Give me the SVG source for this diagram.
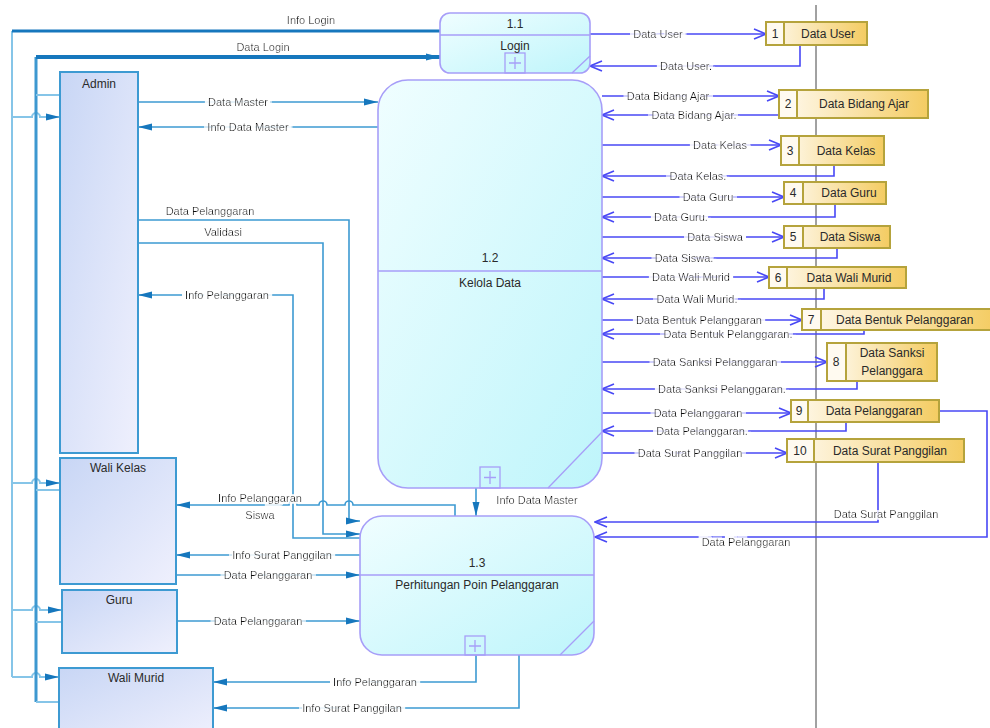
<svg xmlns="http://www.w3.org/2000/svg" width="990" height="728" viewBox="0 0 990 728">
<defs>
<linearGradient id="gEnt" x1="0" y1="0" x2="1" y2="1"><stop offset="0" stop-color="#c8d6f5"/><stop offset="1" stop-color="#eff0fd"/></linearGradient>
<linearGradient id="gProc" x1="0" y1="0" x2="1" y2="1"><stop offset="0" stop-color="#f0feff"/><stop offset="1" stop-color="#bef5fb"/></linearGradient>
<linearGradient id="gStore" x1="0" y1="0" x2="1" y2="0"><stop offset="0" stop-color="#fffaf0"/><stop offset="1" stop-color="#f4cc62"/></linearGradient>
<filter id="bg" x="-10%" y="-30%" width="120%" height="160%"><feMorphology in="SourceAlpha" operator="dilate" radius="3.5 2" result="d"/><feFlood flood-color="#fff"/><feComposite in2="d" operator="in"/><feMerge><feMergeNode/><feMergeNode in="SourceGraphic"/></feMerge></filter>
<marker id="fa" viewBox="0 0 14 10" refX="14" refY="5" markerWidth="14" markerHeight="10" markerUnits="userSpaceOnUse" orient="auto"><path d="M0,1.5 L14,5 L0,8.5 z" fill="#1677bd"/></marker>
<marker id="oa" viewBox="0 0 14 12" refX="13" refY="6" markerWidth="14" markerHeight="12" markerUnits="userSpaceOnUse" orient="auto"><path d="M1,1 L13,6 L1,11" fill="none" stroke="#4848f5" stroke-width="1.6"/></marker>
</defs>
<style>
text{font-family:"Liberation Sans",Arial,sans-serif;font-size:11px;fill:#2a2a2a}
.lb{text-anchor:middle;filter:url(#bg);fill:#111}
.ent{fill:url(#gEnt);stroke:#3d9ad2;stroke-width:2}
.proc{fill:url(#gProc);stroke:#a79ef8;stroke-width:1.6}
.pl{fill:none;stroke:#a79ef8;stroke-width:1.3}
.st{fill:url(#gStore);stroke:#b5a33c;stroke-width:2}
.stn{fill:#fffaf0;stroke:#b5a33c;stroke-width:2}
.nm{font-size:12px;text-anchor:middle}
.e{fill:none;stroke:#3d9ad2;stroke-width:1.6}
.el{fill:none;stroke:#86c5e8;stroke-width:2}
.s{fill:none;stroke:#4848f5;stroke-width:1.6}
</style>
<rect width="990" height="728" fill="#fff"/>
<line x1="816" y1="5" x2="816" y2="728" stroke="#444" stroke-width="1"/>

<g id="connectors">
<path d="M12,31 V677" class="el"/>
<path d="M440,31 H12" fill="none" stroke="#1677bd" stroke-width="3"/>
<path d="M12,117 H32 a4,4 0 0 1 8,0 H60" class="el" marker-end="url(#fa)"/>
<path d="M12,483 H32 a4,4 0 0 1 8,0 H60" class="el" marker-end="url(#fa)"/>
<path d="M12,610 H32 a4,4 0 0 1 8,0 H62" class="el" marker-end="url(#fa)"/>
<path d="M12,677 H32 a4,4 0 0 1 8,0 H59" class="el" marker-end="url(#fa)"/>
<path d="M36,57 V702" fill="none" stroke="#3d98d0" stroke-width="3"/>
<path d="M36,57 H440" fill="none" stroke="#1677bd" stroke-width="4" marker-end="url(#fa)"/>
<path d="M36,95 H60 M36,490 H60 M36,622 H62 M36,702 H59" class="el"/>
<path d="M138,102 H378" class="e" marker-end="url(#fa)"/>
<path d="M378,127 H138" class="e" marker-end="url(#fa)"/>
<path d="M138,220 H349 V521 H360" class="e" marker-end="url(#fa)"/>
<path d="M138,243 H323 V534 H360" class="e" marker-end="url(#fa)"/>
<path d="M360,538 H293 V295 H138" class="e" marker-end="url(#fa)"/>
<path d="M455,516 V505 H353 a4,4 0 0 0 -8,0 H327 a4,4 0 0 0 -8,0 H297 a4,4 0 0 0 -8,0 H176" class="e" marker-end="url(#fa)"/>
<path d="M476,488 V516" class="e" marker-end="url(#fa)"/>
<path d="M360,555 H176" class="e" marker-end="url(#fa)"/>
<path d="M176,575 H360" class="e" marker-end="url(#fa)"/>
<path d="M177,621 H360" class="e" marker-end="url(#fa)"/>
<path d="M476,655 V682 H213" class="e" marker-end="url(#fa)"/>
<path d="M519,655 V708 H213" class="e" marker-end="url(#fa)"/>
<path d="M590,34 H766" class="s" marker-end="url(#oa)"/>
<path d="M800,45 V66 H590" class="s" marker-end="url(#oa)"/>
<path d="M602,96 H779" class="s" marker-end="url(#oa)"/>
<path d="M779,115 H602" class="s" marker-end="url(#oa)"/>
<path d="M602,145 H781" class="s" marker-end="url(#oa)"/>
<path d="M834,165 V176 H602" class="s" marker-end="url(#oa)"/>
<path d="M602,197 H784" class="s" marker-end="url(#oa)"/>
<path d="M835,204 V217 H602" class="s" marker-end="url(#oa)"/>
<path d="M602,237 H784" class="s" marker-end="url(#oa)"/>
<path d="M837,248 V258 H602" class="s" marker-end="url(#oa)"/>
<path d="M602,277 H769" class="s" marker-end="url(#oa)"/>
<path d="M824,288 V299 H602" class="s" marker-end="url(#oa)"/>
<path d="M602,320 H802" class="s" marker-end="url(#oa)"/>
<path d="M864,330 V334 H602" class="s" marker-end="url(#oa)"/>
<path d="M602,362 H827" class="s" marker-end="url(#oa)"/>
<path d="M857,381 V389 H602" class="s" marker-end="url(#oa)"/>
<path d="M602,413 H791" class="s" marker-end="url(#oa)"/>
<path d="M846,422 V431 H602" class="s" marker-end="url(#oa)"/>
<path d="M602,453 H787" class="s" marker-end="url(#oa)"/>
<path d="M878,462 V522 H595" class="s" marker-end="url(#oa)"/>
<path d="M939,411 H987 V537 H595" class="s" marker-end="url(#oa)"/>
<text class="lb" x="311" y="24">Info Login</text>
<text class="lb" x="263" y="51">Data Login</text>
<text class="lb" x="238" y="106">Data Master</text>
<text class="lb" x="248" y="131">Info Data Master</text>
<text class="lb" x="210" y="215">Data Pelanggaran</text>
<text class="lb" x="223" y="236">Validasi</text>
<text class="lb" x="227" y="299">Info Pelanggaran</text>
<text class="lb" x="260" y="502">Info Pelanggaran</text>
<text class="lb" x="260" y="519">Siswa</text>
<text class="lb" x="537" y="504">Info Data Master</text>
<text class="lb" x="282" y="559">Info Surat Panggilan</text>
<text class="lb" x="268" y="579">Data Pelanggaran</text>
<text class="lb" x="258" y="625">Data Pelanggaran</text>
<text class="lb" x="375" y="686">Info Pelanggaran</text>
<text class="lb" x="352" y="712">Info Surat Panggilan</text>
<text class="lb" x="658" y="38">Data User</text>
<text class="lb" x="686" y="70">Data User.</text>
<text class="lb" x="668" y="100">Data Bidang Ajar</text>
<text class="lb" x="694" y="119">Data Bidang Ajar.</text>
<text class="lb" x="720" y="149">Data Kelas</text>
<text class="lb" x="698" y="180">Data Kelas.</text>
<text class="lb" x="708" y="201">Data Guru</text>
<text class="lb" x="681" y="221">Data Guru.</text>
<text class="lb" x="715" y="241">Data Siswa</text>
<text class="lb" x="684" y="262">Data Siswa.</text>
<text class="lb" x="691" y="281">Data Wali Murid</text>
<text class="lb" x="697" y="303">Data Wali Murid.</text>
<text class="lb" x="699" y="324">Data Bentuk Pelanggaran</text>
<text class="lb" x="728" y="338">Data Bentuk Pelanggaran.</text>
<text class="lb" x="715" y="366">Data Sanksi Pelanggaran</text>
<text class="lb" x="722" y="393">Data Sanksi Pelanggaran.</text>
<text class="lb" x="698" y="417">Data Pelanggaran</text>
<text class="lb" x="702" y="435">Data Pelanggaran.</text>
<text class="lb" x="690" y="457">Data Surat Panggilan</text>
<text class="lb" x="886" y="518">Data Surat Panggilan</text>
<text class="lb" x="746" y="546">Data Pelanggaran</text>
</g>

<g id="admin"><rect class="ent" x="60" y="72" width="78" height="381"/><text class="nm" x="99" y="88">Admin</text></g>
<g id="wali-kelas"><rect class="ent" x="60" y="458" width="116" height="126"/><text class="nm" x="118" y="472">Wali Kelas</text></g>
<g id="guru"><rect class="ent" x="62" y="590" width="115" height="63"/><text class="nm" x="119" y="604">Guru</text></g>
<g id="wali-murid"><rect class="ent" x="59" y="668" width="154" height="70"/><text class="nm" x="136" y="682">Wali Murid</text></g>

<g id="p11">
<rect class="proc" x="440" y="13" width="150" height="60" rx="10"/>
<line class="pl" x1="440" y1="35" x2="590" y2="35"/>
<path class="pl" d="M572,73 L590,56"/>
<rect class="pl" x="505" y="53" width="20" height="20"/>
<path class="pl" d="M515,57 V69 M509,63 H521"/>
<text class="nm" x="515" y="28">1.1</text>
<text class="nm" x="515" y="50">Login</text>
</g>
<g id="p12">
<rect class="proc" x="378" y="80" width="224" height="408" rx="30"/>
<line class="pl" x1="378" y1="271" x2="602" y2="271"/>
<path class="pl" d="M548,488 L602,432"/>
<rect class="pl" x="480" y="467" width="20" height="21"/>
<path class="pl" d="M490,471 V484 M484,477.5 H496"/>
<text class="nm" x="490" y="262">1.2</text>
<text class="nm" x="490" y="287">Kelola Data</text>
</g>
<g id="p13">
<rect class="proc" x="360" y="516" width="234" height="139" rx="22"/>
<line class="pl" x1="360" y1="575" x2="594" y2="575"/>
<path class="pl" d="M560,655 L594,621"/>
<rect class="pl" x="465" y="636" width="20" height="19"/>
<path class="pl" d="M475,640 V652 M469,646 H481"/>
<text class="nm" x="477" y="567">1.3</text>
<text class="nm" x="477" y="589">Perhitungan Poin Pelanggaran</text>
</g>

<g id="ds1"><rect class="st" x="766" y="22" width="101" height="23"/><rect class="stn" x="766" y="22" width="18" height="23"/><text class="nm" x="775" y="38">1</text><text class="nm" x="828" y="38">Data User</text></g>
<g id="ds2"><rect class="st" x="779" y="90" width="149" height="28"/><rect class="stn" x="779" y="90" width="18" height="28"/><text class="nm" x="788" y="108">2</text><text class="nm" x="864" y="108">Data Bidang Ajar</text></g>
<g id="ds3"><rect class="st" x="781" y="136" width="103" height="29"/><rect class="stn" x="781" y="136" width="18" height="29"/><text class="nm" x="790" y="155">3</text><text class="nm" x="846" y="155">Data Kelas</text></g>
<g id="ds4"><rect class="st" x="784" y="182" width="102" height="22"/><rect class="stn" x="784" y="182" width="19" height="22"/><text class="nm" x="793" y="197">4</text><text class="nm" x="849" y="197">Data Guru</text></g>
<g id="ds5"><rect class="st" x="784" y="226" width="106" height="22"/><rect class="stn" x="784" y="226" width="19" height="22"/><text class="nm" x="793" y="241">5</text><text class="nm" x="850" y="241">Data Siswa</text></g>
<g id="ds6"><rect class="st" x="769" y="267" width="137" height="21"/><rect class="stn" x="769" y="267" width="18" height="21"/><text class="nm" x="778" y="282">6</text><text class="nm" x="849" y="282">Data Wali Murid</text></g>
<g id="ds7"><rect class="st" x="802" y="309" width="193" height="21"/><rect class="stn" x="802" y="309" width="19" height="21"/><text class="nm" x="811" y="324">7</text><text x="836" y="324" style="font-size:12px">Data Bentuk Pelanggaran</text></g>
<g id="ds8"><rect class="st" x="827" y="343" width="110" height="38"/><rect class="stn" x="827" y="343" width="19" height="38"/><text class="nm" x="836" y="366">8</text><text class="nm" x="892" y="357">Data Sanksi</text><text class="nm" x="892" y="375">Pelanggara</text></g>
<g id="ds9"><rect class="st" x="791" y="400" width="148" height="22"/><rect class="stn" x="791" y="400" width="17" height="22"/><text class="nm" x="799" y="415">9</text><text class="nm" x="874" y="415">Data Pelanggaran</text></g>
<g id="ds10"><rect class="st" x="787" y="439" width="177" height="23"/><rect class="stn" x="787" y="439" width="27" height="23"/><text class="nm" x="800" y="455">10</text><text class="nm" x="890" y="455">Data Surat Panggilan</text></g>
</svg>
